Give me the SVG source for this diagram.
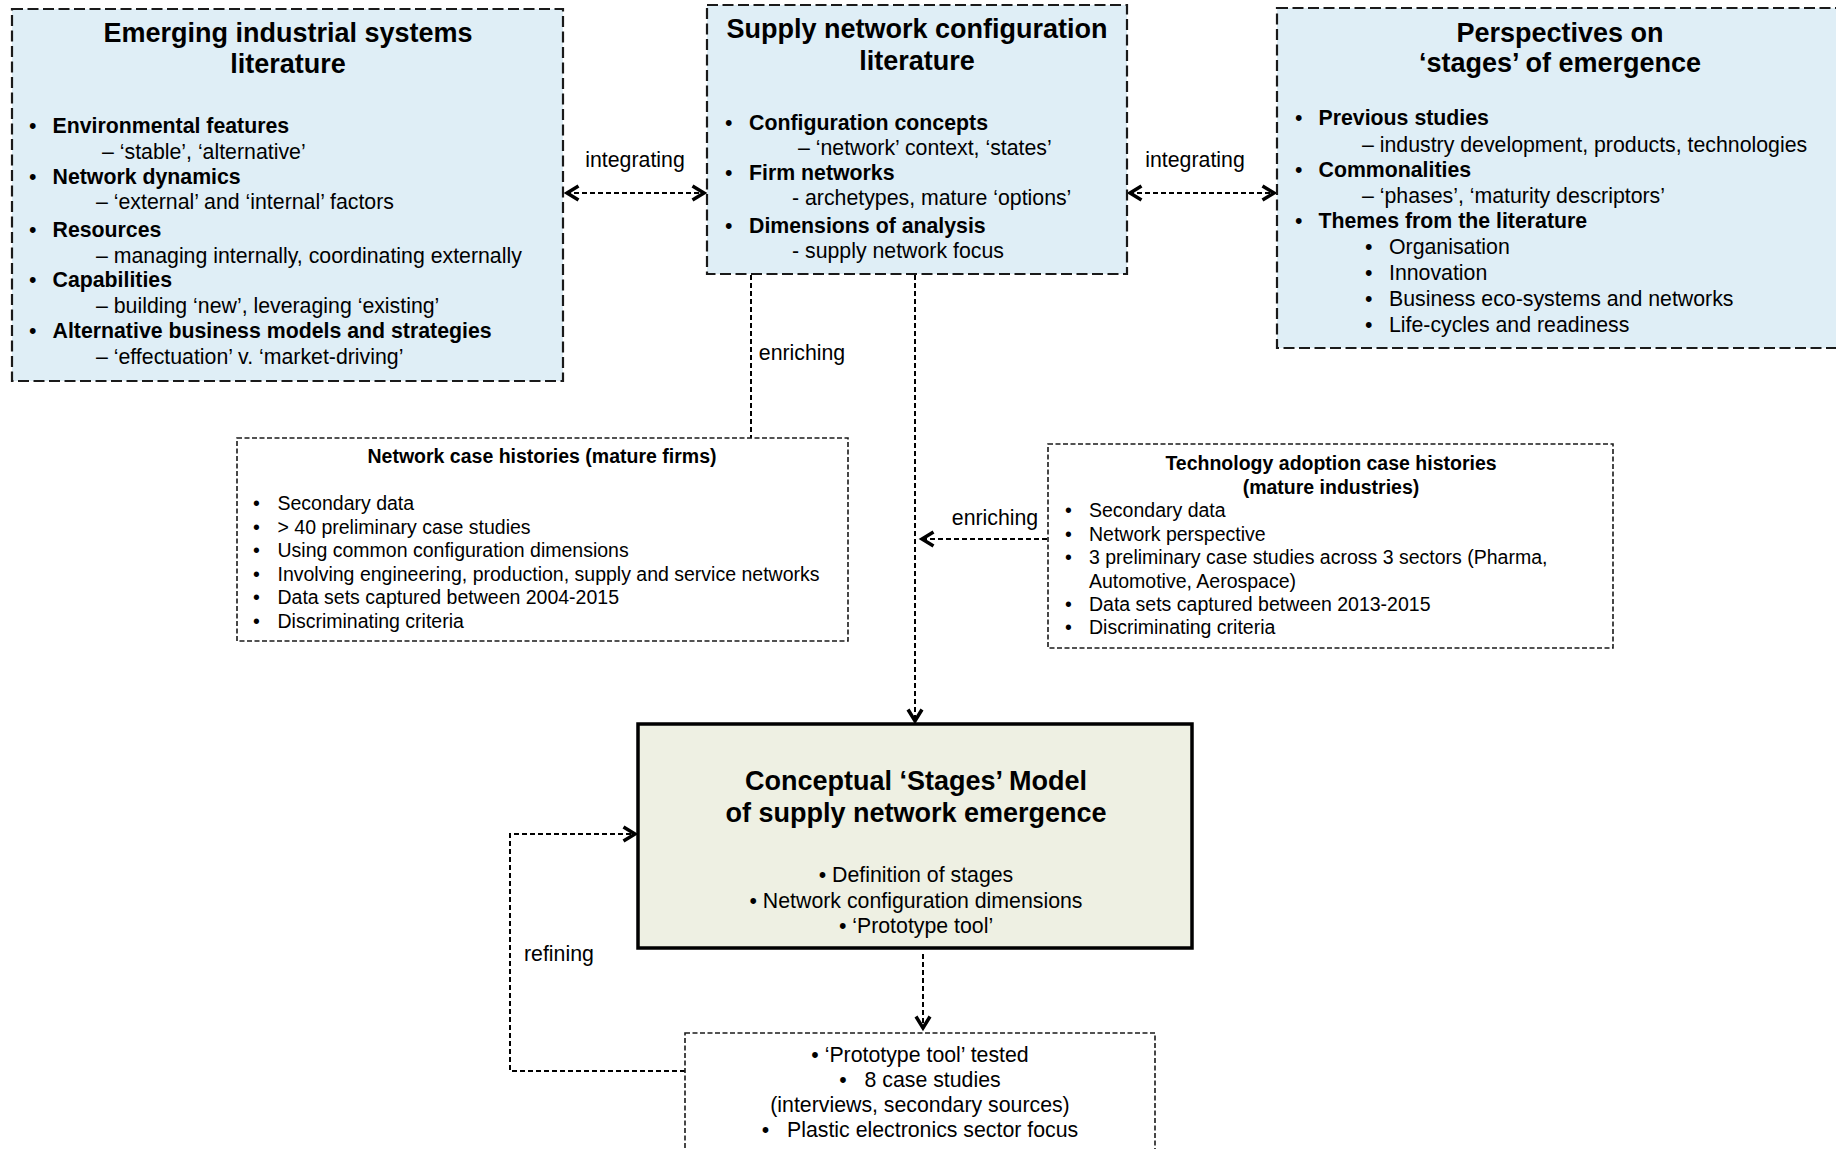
<svg xmlns="http://www.w3.org/2000/svg" width="1836" height="1149" viewBox="0 0 1836 1149">
<style>
text{font-family:"Liberation Sans",Arial,Helvetica,sans-serif;fill:#000}
.t{font-size:27px;font-weight:bold;text-anchor:middle}
.b{font-size:21.3px;font-weight:bold}
.r{font-size:21.3px}
.s{font-size:19.5px}
.sb{font-size:19.5px;font-weight:bold;text-anchor:middle}
.m{text-anchor:middle}
.lit{fill:#dfeef6;stroke:#1a1a1a;stroke-width:2.2;stroke-dasharray:11 4.5}
.case{fill:#fff;stroke:#1a1a1a;stroke-width:1.6;stroke-dasharray:5 2.5}
.model{fill:#eef0e3;stroke:#000;stroke-width:3.5}
.con{fill:none;stroke:#000;stroke-width:2;stroke-dasharray:5 3}
</style>
<defs>
<marker id="arr" viewBox="0 0 18 18" refX="15" refY="9" markerWidth="18" markerHeight="18" markerUnits="userSpaceOnUse" orient="auto-start-reverse">
<path d="M2.5,2 L14,9 L2.5,16" fill="none" stroke="#000" stroke-width="3.5" stroke-dasharray="none"/>
</marker>
</defs>

<g id="connectors">
<line class="con" x1="566" y1="193" x2="705" y2="193" marker-start="url(#arr)" marker-end="url(#arr)"/>
<line class="con" x1="1129" y1="193" x2="1275" y2="193" marker-start="url(#arr)" marker-end="url(#arr)"/>
<line class="con" x1="751" y1="275" x2="751" y2="438"/>
<line class="con" x1="915" y1="275" x2="915" y2="722" marker-end="url(#arr)"/>
<line class="con" x1="1047" y1="539" x2="921" y2="539" marker-end="url(#arr)"/>
<line class="con" x1="923" y1="954" x2="923" y2="1029" marker-end="url(#arr)"/>
<polyline class="con" points="685,1071 510,1071 510,834 636,834" marker-end="url(#arr)"/>
<text class="r m" x="635" y="167">integrating</text>
<text class="r m" x="1195" y="167">integrating</text>
<text class="r m" x="802" y="360">enriching</text>
<text class="r m" x="995" y="525">enriching</text>
<text class="r" x="524" y="961">refining</text>
</g>

<g id="emerging-industrial-systems">
<rect class="lit" x="12" y="9" width="551" height="372"/>
<text class="t" x="288" y="42">Emerging industrial systems</text>
<text class="t" x="288" y="73">literature</text>
<text class="r" x="29" y="133">•</text><text class="b" x="52.5" y="133">Environmental features</text>
<text class="r" x="102" y="159">– ‘stable’, ‘alternative’</text>
<text class="r" x="29" y="184">•</text><text class="b" x="52.5" y="184">Network dynamics</text>
<text class="r" x="96" y="209">– ‘external’ and ‘internal’ factors</text>
<text class="r" x="29" y="237">•</text><text class="b" x="52.5" y="237">Resources</text>
<text class="r" x="96" y="263">– managing internally, coordinating externally</text>
<text class="r" x="29" y="287">•</text><text class="b" x="52.5" y="287">Capabilities</text>
<text class="r" x="96" y="313">– building ‘new’, leveraging ‘existing’</text>
<text class="r" x="29" y="338">•</text><text class="b" x="52.5" y="338">Alternative business models and strategies</text>
<text class="r" x="96" y="364">– ‘effectuation’ v. ‘market-driving’</text>
</g>

<g id="supply-network-configuration">
<rect class="lit" x="707" y="5" width="420" height="269"/>
<text class="t" x="917" y="38">Supply network configuration</text>
<text class="t" x="917" y="70">literature</text>
<text class="r" x="725" y="130">•</text><text class="b" x="749" y="130">Configuration concepts</text>
<text class="r" x="798" y="155">– ‘network’ context, ‘states’</text>
<text class="r" x="725" y="180">•</text><text class="b" x="749" y="180">Firm networks</text>
<text class="r" x="792" y="205">- archetypes, mature ‘options’</text>
<text class="r" x="725" y="233">•</text><text class="b" x="749" y="233">Dimensions of analysis</text>
<text class="r" x="792" y="258">- supply network focus</text>
</g>

<g id="perspectives-on-stages">
<rect class="lit" x="1277" y="8" width="575" height="340"/>
<text class="t" x="1560" y="42">Perspectives on</text>
<text class="t" x="1560" y="72">‘stages’ of emergence</text>
<text class="r" x="1295" y="125">•</text><text class="b" x="1318.5" y="125">Previous studies</text>
<text class="r" x="1362" y="152">– industry development, products, technologies</text>
<text class="r" x="1295" y="177">•</text><text class="b" x="1318.5" y="177">Commonalities</text>
<text class="r" x="1362" y="203">– ‘phases’, ‘maturity descriptors’</text>
<text class="r" x="1295" y="228">•</text><text class="b" x="1318.5" y="228">Themes from the literature</text>
<text class="r" x="1365" y="254">•</text><text class="r" x="1389" y="254">Organisation</text>
<text class="r" x="1365" y="280">•</text><text class="r" x="1389" y="280">Innovation</text>
<text class="r" x="1365" y="306">•</text><text class="r" x="1389" y="306">Business eco-systems and networks</text>
<text class="r" x="1365" y="332">•</text><text class="r" x="1389" y="332">Life-cycles and readiness</text>
</g>

<g id="network-case-histories">
<rect class="case" x="237" y="438" width="611" height="203"/>
<text class="sb" x="542" y="463">Network case histories (mature firms)</text>
<text class="s" x="253" y="510">•</text><text class="s" x="277.5" y="510">Secondary data</text>
<text class="s" x="253" y="533.5">•</text><text class="s" x="277.5" y="533.5">&gt; 40 preliminary case studies</text>
<text class="s" x="253" y="557">•</text><text class="s" x="277.5" y="557">Using common configuration dimensions</text>
<text class="s" x="253" y="580.5">•</text><text class="s" x="277.5" y="580.5">Involving engineering, production, supply and service networks</text>
<text class="s" x="253" y="604">•</text><text class="s" x="277.5" y="604">Data sets captured between 2004-2015</text>
<text class="s" x="253" y="627.5">•</text><text class="s" x="277.5" y="627.5">Discriminating criteria</text>
</g>

<g id="technology-adoption-case-histories">
<rect class="case" x="1048" y="444" width="565" height="204"/>
<text class="sb" x="1331" y="470">Technology adoption case histories</text>
<text class="sb" x="1331" y="494">(mature industries)</text>
<text class="s" x="1065" y="517">•</text><text class="s" x="1089" y="517">Secondary data</text>
<text class="s" x="1065" y="540.5">•</text><text class="s" x="1089" y="540.5">Network perspective</text>
<text class="s" x="1065" y="564">•</text><text class="s" x="1089" y="564">3 preliminary case studies across 3 sectors (Pharma,</text>
<text class="s" x="1089" y="587.5">Automotive, Aerospace)</text>
<text class="s" x="1065" y="611">•</text><text class="s" x="1089" y="611">Data sets captured between 2013-2015</text>
<text class="s" x="1065" y="634">•</text><text class="s" x="1089" y="634">Discriminating criteria</text>
</g>

<g id="conceptual-stages-model">
<rect class="model" x="638" y="724" width="554" height="224"/>
<text class="t" x="916" y="790">Conceptual ‘Stages’ Model</text>
<text class="t" x="916" y="822">of supply network emergence</text>
<text class="r m" x="916" y="882">• Definition of stages</text>
<text class="r m" x="916" y="908">• Network configuration dimensions</text>
<text class="r m" x="916" y="933">• ‘Prototype tool’</text>
</g>

<g id="prototype-tool-testing">
<rect class="case" x="685" y="1033" width="470" height="150"/>
<text class="r m" x="920" y="1062">• ‘Prototype tool’ tested</text>
<text class="r m" x="920" y="1087" xml:space="preserve">•   8 case studies</text>
<text class="r m" x="920" y="1112">(interviews, secondary sources)</text>
<text class="r m" x="920" y="1137" xml:space="preserve">•   Plastic electronics sector focus</text>
</g>
</svg>
